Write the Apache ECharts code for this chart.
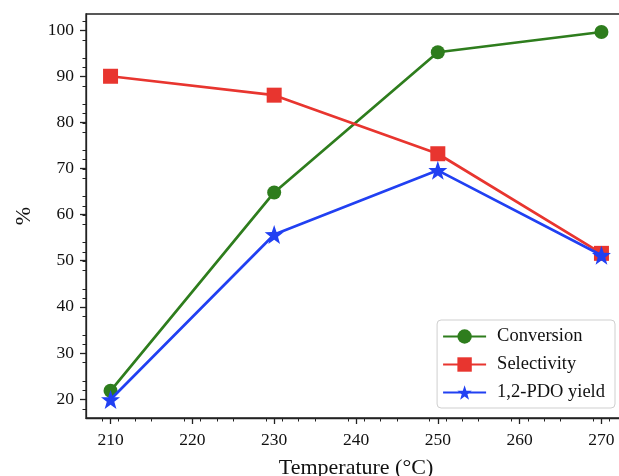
<!DOCTYPE html>
<html>
<head>
<meta charset="utf-8">
<script src="https://cdn.jsdelivr.net/npm/echarts@6/dist/echarts.min.js"></script>
<style>
  html, body { margin: 0; padding: 0; background: #fff; }
  #chart { width: 619px; height: 476px; }
</style>
</head>
<body>
<div id="chart"></div>
<script>
// Reaction temperature (°C)
const temperatures = [210, 230, 250, 270];
// Glycerol conversion, selectivity and 1,2-PDO yield (%)
const conversion = [21.8, 64.8, 95.2, 99.6];
const selectivity = [90.0, 85.9, 73.2, 51.6];
const pdoYield = [19.9, 55.7, 69.6, 51.2];
const xTicks = [210, 220, 230, 240, 250, 260, 270];
const yTicks = [20, 30, 40, 50, 60, 70, 80, 90, 100];

const serif = '"Liberation Serif", "DejaVu Serif", serif';
const pair = (vals) => temperatures.map((t, i) => [t, vals[i]]);

const chart = echarts.init(document.getElementById('chart'), null, { renderer: 'canvas' });

chart.setOption({
  animation: false,
  backgroundColor: '#fff',
  grid: {
    left: 86, top: 14, right: -7, bottom: 58,
    containLabel: false, outerBoundsMode: 'none',
    show: true, borderColor: '#222', borderWidth: 1.3, backgroundColor: 'transparent'
  },
  legend: {
    right: 4, top: 320, orient: 'vertical',
    itemWidth: 43, itemHeight: 18, itemGap: 9,
    padding: [7, 10, 6, 5],
    backgroundColor: '#fff', borderColor: '#cfcfcf', borderWidth: 1, borderRadius: 4,
    textStyle: { fontFamily: serif, fontSize: 18.5, color: '#111', padding: [0, 0, 0, 6] },
    data: ['Conversion', 'Selectivity', '1,2-PDO yield']
  },
  xAxis: {
    type: 'value', min: 207, max: 273, interval: 10,
    name: 'Temperature (°C)', nameLocation: 'middle', nameGap: 39,
    nameTextStyle: { fontFamily: serif, fontSize: 22, color: '#111' },
    axisLine: { show: true, lineStyle: { color: '#222', width: 1.3 } },
    axisTick: { show: true, length: 6, lineStyle: { color: '#222', width: 1.3 }, customValues: xTicks },
    minorTick: { show: true, splitNumber: 5, length: 3.5, lineStyle: { color: '#222', width: 1 } },
    axisLabel: { fontFamily: serif, fontSize: 17.5, color: '#111', margin: 13, customValues: xTicks },
    splitLine: { show: false }
  },
  yAxis: {
    type: 'value', min: 15.9, max: 103.5, interval: 10,
    name: '%', nameLocation: 'middle', nameGap: 51, nameRotate: 90,
    nameTextStyle: { fontFamily: serif, fontSize: 22, color: '#111' },
    axisLine: { show: true, lineStyle: { color: '#222', width: 1.3 } },
    axisTick: { show: true, length: 6, lineStyle: { color: '#222', width: 1.3 }, customValues: yTicks },
    minorTick: { show: true, splitNumber: 5, length: 3.5, lineStyle: { color: '#222', width: 1 } },
    axisLabel: { fontFamily: serif, fontSize: 17.5, color: '#111', margin: 12, customValues: yTicks },
    splitLine: { show: false }
  },
  series: [
    {
      name: 'Conversion', type: 'line', data: pair(conversion),
      symbol: 'circle', symbolSize: 14,
      lineStyle: { color: '#2e7d1d', width: 2.7 },
      itemStyle: { color: '#2e7d1d' }, z: 3
    },
    {
      name: 'Selectivity', type: 'line', data: pair(selectivity),
      symbol: 'rect', symbolSize: 15,
      lineStyle: { color: '#e8352f', width: 2.7 },
      itemStyle: { color: '#e8352f' }, z: 4
    },
    {
      name: '1,2-PDO yield', type: 'line', data: pair(pdoYield),
      symbol: 'path://M0,-10 L2.35,-3.24 L9.51,-3.09 L3.8,1.24 L5.88,8.09 L0,4 L-5.88,8.09 L-3.8,1.24 L-9.51,-3.09 L-2.35,-3.24 Z',
      symbolSize: 19,
      lineStyle: { color: '#2140f2', width: 2.7 },
      itemStyle: { color: '#2140f2' }, z: 5
    }
  ]
});
</script>
</body>
</html>
